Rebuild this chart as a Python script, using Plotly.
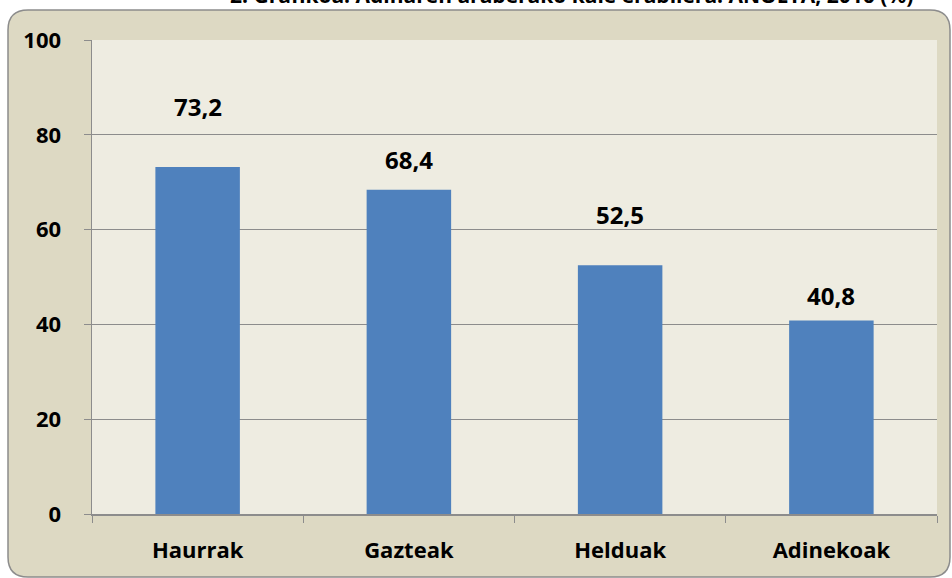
import plotly.graph_objects as go

categories = ["Haurrak", "Gazteak", "Helduak", "Adinekoak"]
values = [73.2, 68.4, 52.5, 40.8]
value_labels = ["73,2", "68,4", "52,5", "40,8"]
y_ticks = [0, 20, 40, 60, 80, 100]
title_text = "2. Grafikoa. Adinaren araberako kale erabilera. ANOETA, 2016 (%)"

# style: label centre offsets above bar tops (pixels)
label_shift_px = [61, 30, 51, 25]

W, H = 952, 578
L, R, T, B = 92, 15, 40, 64
pw, ph = W - L - R, H - T - B

def px_x(p):
    return (p - L) / pw

def px_y(p):
    return (H - B - p) / ph

FONT = "Open Sans"

fig = go.Figure()
fig.add_trace(go.Bar(
    x=categories, y=values,
    marker=dict(color="#4F81BD", line=dict(width=0)),
    hoverinfo="skip",
))

for c, v, lab, s in zip(categories, values, value_labels, label_shift_px):
    fig.add_annotation(x=c, y=v, text="<b>" + lab + "</b>", showarrow=False,
                       yanchor="middle", yshift=s,
                       font=dict(family=FONT, size=24, color="#000000"))

fig.add_annotation(xref="paper", yref="paper", x=px_x(571), y=px_y(4),
                   xanchor="center", yanchor="bottom", yshift=-7,
                   text="<b>" + title_text + "</b>", showarrow=False,
                   font=dict(family=FONT, size=21, color="#000000"))

# rounded outer box
x0, x1, y0, y1, r = 8, 950, 10, 577, 20
path = (f"M {px_x(x0+r)},{px_y(y0)} L {px_x(x1-r)},{px_y(y0)} "
        f"Q {px_x(x1)},{px_y(y0)} {px_x(x1)},{px_y(y0+r)} "
        f"L {px_x(x1)},{px_y(y1-r)} Q {px_x(x1)},{px_y(y1)} {px_x(x1-r)},{px_y(y1)} "
        f"L {px_x(x0+r)},{px_y(y1)} Q {px_x(x0)},{px_y(y1)} {px_x(x0)},{px_y(y1-r)} "
        f"L {px_x(x0)},{px_y(y0+r)} Q {px_x(x0)},{px_y(y0)} {px_x(x0+r)},{px_y(y0)} Z")
fig.add_shape(type="path", xref="paper", yref="paper", path=path,
              fillcolor="#DDD9C3", line=dict(color="#8C8C8C", width=1.5), layer="below")
# plot area background
fig.add_shape(type="rect", xref="paper", yref="paper", x0=0, x1=1, y0=0, y1=1,
              fillcolor="#EEECE1", line=dict(width=0), layer="below")

fig.update_layout(
    width=W, height=H,
    margin=dict(l=L, r=R, t=T, b=B),
    paper_bgcolor="#FFFFFF",
    plot_bgcolor="#EEECE1",
    bargap=0.6,
    showlegend=False,
    font=dict(family=FONT, color="#000000"),
)
fig.update_yaxes(
    range=[0, 100], tickvals=y_ticks, showgrid=True, gridcolor="#8C8C8C", gridwidth=1,
    showline=True, linecolor="#8C8C8C", linewidth=1.5, ticks="outside", ticklen=7,
    tickcolor="#8C8C8C", ticklabelstandoff=18,
    tickfont=dict(family=FONT, size=22, color="#000000", weight="bold"),
    zeroline=False,
)
fig.update_xaxes(
    showline=True, linecolor="#8C8C8C", linewidth=1.5, ticks="outside", ticklen=7,
    tickcolor="#8C8C8C", tickson="boundaries", ticklabelstandoff=16,
    tickfont=dict(family=FONT, size=22, color="#000000", weight="bold"),
)

fig.write_html("out.html", config={"displayModeBar": False, "staticPlot": True},
               post_script="document.body.style.margin='0';document.body.style.overflow='hidden';")
